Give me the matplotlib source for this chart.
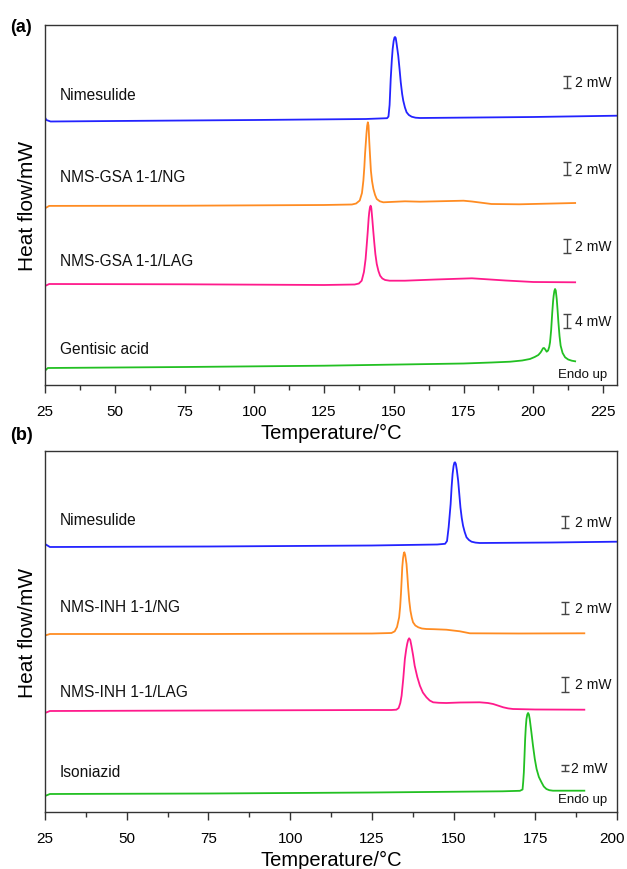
import matplotlib
matplotlib.use("Agg")
import matplotlib.pyplot as plt
from matplotlib.transforms import ScaledTranslation

plt.rcParams["font.family"] = ["Liberation Sans", "DejaVu Sans"]

# ---- panel (a): NMS-GSA ----
nim_a_T = [25.0, 25.5, 27, 50, 100, 140, 147.6, 148.1, 148.5, 148.9, 149.3, 149.6, 149.95,
           150.25, 150.45, 150.7, 151.0, 151.6, 152.1, 152.5, 153.0, 153.4, 154.0, 154.6,
           155.4, 156.4, 157.8, 159.4, 200, 230]
nim_a_hf = [267.5, 265, 263.5, 264, 265, 266, 266.8, 268.5, 280, 306, 325, 336, 344,
            347.5, 348, 347, 341.5, 329.3, 315, 302.7, 291, 284.3, 277.5, 272.7,
            270, 268.3, 267.3, 267, 268, 269.3]

ng_a_T = [25, 26.5, 75, 125, 135, 136.5, 137.8, 138.6, 139.1, 139.45, 139.7, 140.0, 140.2,
          140.45, 140.7, 140.95, 141.2, 141.5, 141.8, 142.2, 142.7, 143.3, 143.9, 145.0,
          146.25, 154, 159.4, 175, 178, 185, 195, 215]
ng_a_hf = [176.7, 179.1, 179.3, 180, 180.5, 181.5, 184.5, 192, 204.3, 218, 231, 243, 251,
           259, 262.7, 259.5, 244.3, 229, 214.3, 204, 196, 190, 186, 183.7,
           182.7, 183.7, 183.3, 184.3, 183.5, 181, 180.7, 182]

lag_a_T = [25, 26.5, 75, 125, 136, 137.5, 138.5, 139.3, 139.9, 140.3, 140.65, 141.0, 141.2,
           141.45, 141.7, 141.95, 142.3, 142.65, 143.0, 143.4, 143.9, 144.5, 145.1, 145.9,
           146.9, 148.5, 154, 165, 178, 190, 200, 215]
lag_a_hf = [99, 101, 100.7, 100, 100.5, 101.5, 104.3, 113, 126, 140, 152.7, 167, 172.7,
            177.5, 179.3, 177, 166, 154, 142.7, 131, 121, 114, 109.3, 106.5,
            105, 104.3, 104.3, 105.5, 106.7, 104.5, 103, 102.7]

gen_a_T = [25, 26, 75, 125, 175, 185, 191.7, 196, 198.8, 200.5, 201.8, 202.6, 203.0, 203.5,
           203.85, 204.3, 204.8, 205.3, 205.7, 206.0, 206.4, 206.8, 207.1, 207.3, 207.55,
           207.8, 208.05, 208.4, 208.7, 209.0, 209.4, 209.8, 210.5, 211.4, 212.5, 213.8, 215]
gen_a_hf = [14.3, 17, 18, 19.3, 21.5, 22.5, 23.3, 24.5, 26, 28, 30, 32.5, 34.3, 36.8,
            37, 35.5, 33.3, 34.5, 38, 42.7, 55, 72.7, 84, 89.3, 94,
            96, 94.5, 86, 75, 62.7, 49, 39.3, 32, 27.7, 25.5, 24.3, 23.7]

# ---- panel (b): NMS-INH ----
nim_b_T = [25, 26.5, 75, 125, 145, 147.4, 148.0, 148.5, 149.1, 149.4, 149.7, 150.0, 150.25,
           150.45, 150.7, 151.0, 151.4, 151.75, 152.1, 152.5, 152.9, 153.4, 153.96, 154.7,
           155.5, 156.7, 158, 180, 200]
nim_b_hf = [268, 265, 265.5, 266.5, 267.5, 268.2, 271, 285, 308, 325, 338, 346, 349.3,
            349.7, 348, 342, 331.3, 318, 304.7, 294, 286.3, 280, 274.7, 272,
            270.3, 269.4, 269, 269.5, 270.3]

ng_b_T = [25, 26.5, 75, 125, 131, 131.6, 132.0, 132.7, 133.35, 133.65, 133.9, 134.1, 134.3,
          134.55, 134.8, 134.95, 135.2, 135.6, 135.85, 136.1, 136.45, 136.8, 137.2, 137.6,
          138.3, 139.2, 140.3, 141.7, 144, 147.8, 151.9, 155, 170, 190]
ng_b_hf = [176.5, 178, 178, 178.5, 179, 180, 180.7, 185, 194.7, 205, 218, 231, 244.7,
           254, 259, 259.7, 257, 248, 237, 224.7, 211, 201.3, 194.5, 189.7,
           186.5, 184.7, 183.5, 183, 182.8, 182.3, 180.7, 178.7, 178.5, 178.7]

lag_b_T = [25, 26.5, 75, 125, 131, 132.5, 133.2, 133.7, 134.1, 134.6, 135.1, 135.5, 135.8,
           136.1, 136.4, 136.75, 137.1, 137.6, 138.1, 138.9, 139.7, 140.6, 141.7, 142.7,
           143.75, 145.5, 147.8, 152, 158, 160.5, 162.1, 163.7, 165.2, 166.7, 168.2, 175, 190]
lag_b_hf = [99, 101, 101.5, 102, 102, 102.3, 104, 109, 116.3, 133, 153, 162.5, 168,
            172, 173.7, 172, 166.3, 157, 146.3, 135, 126.3, 119.5, 114.7, 111.5,
            109.7, 109.2, 109, 109.5, 109.7, 109, 108, 106.3, 104.7, 103.6, 103, 102.5, 102.3]

iso_b_T = [25, 26.5, 75, 125, 165, 170.3, 171.1, 171.3, 171.5, 171.7, 171.9, 172.1, 172.3,
           172.55, 172.8, 173.05, 173.3, 173.8, 174.3, 174.85, 175.4, 176.1, 176.9, 177.6,
           178.4, 179.3, 180.4, 190]
iso_b_hf = [16, 18, 18.5, 19.5, 20.7, 21.2, 22.5, 30, 39.7, 56, 73, 85, 93,
            97.5, 99, 97.5, 93, 80, 66.3, 53, 43, 35, 29.7, 25.5,
            23, 21.8, 21.3, 21.3]

colors = ["#2323ff", "#ff8c22", "#ff1a8c", "#22c022"]

names_a = ["Nimesulide", "NMS-GSA 1-1/NG", "NMS-GSA 1-1/LAG", "Gentisic acid"]
names_b = ["Nimesulide", "NMS-INH 1-1/NG", "NMS-INH 1-1/LAG", "Isoniazid"]
label_y_a = [291, 208, 124, 36]
label_y_b = [292, 205, 120, 40]

# scale bars: (bottom, top, text)
bars_a = [(296.7, 309.3, "2 mW"), (210, 222.7, "2 mW"), (132, 146, "2 mW"), (56.7, 71, "4 mW")]
bars_b = [(284, 296.3, "2 mW"), (198, 209.7, "2 mW"), (119.7, 135.3, "2 mW"), (41.3, 47, "2 mW")]

curves_a = [(nim_a_T, nim_a_hf), (ng_a_T, ng_a_hf), (lag_a_T, lag_a_hf), (gen_a_T, gen_a_hf)]
curves_b = [(nim_b_T, nim_b_hf), (ng_b_T, ng_b_hf), (lag_b_T, lag_b_hf), (iso_b_T, iso_b_hf)]

fig = plt.figure(figsize=(6.27, 8.7), dpi=100)
W, H = 627.0, 870.0


def make_panel(rect, curves, names, label_y, bars, xlim, ylim, bar_x, text_x, endo_y, letter, letter_y):
    ax = fig.add_axes(rect)
    for (t, hf), c in zip(curves, colors):
        ax.plot(t, hf, color=c, lw=1.3, solid_joinstyle="round")
    x0 = xlim[0] + (xlim[1] - xlim[0]) * 15.0 / 572
    for name, y in zip(names, label_y):
        ax.text(x0, y, name, fontsize=11.2, ha="left", va="center", color="#111111")
    for (b0, b1, txt), tx in zip(bars, text_x):
        ax.errorbar([bar_x], [(b0 + b1) / 2], yerr=[(b1 - b0) / 2], fmt="none",
                    ecolor="#444444", elinewidth=1.0, capsize=3, capthick=1.0)
        ax.text(tx, (b0 + b1) / 2, txt, fontsize=10, ha="left", va="center", color="#111111")
    ax.text(xlim[1] - (xlim[1] - xlim[0]) * 10.0 / 572, endo_y, "Endo up", fontsize=9.5,
            ha="right", va="center", color="#111111")
    ax.set_xlim(xlim)
    ax.set_ylim(ylim)
    ax.set_xticks(range(25, int(xlim[1]) + 1, 25))
    ax.set_xticks([v + 12.5 for v in range(25, int(xlim[1]) - 12, 25)], minor=True)
    ax.set_yticks([])
    ax.tick_params(axis="x", which="major", length=6, width=1.0, labelsize=11, pad=8, color="#333333")
    ax.tick_params(axis="x", which="minor", length=3.5, width=1.0, color="#333333")
    for s in ax.spines.values():
        s.set_color("#333333")
        s.set_linewidth(1.0)
    ax.set_xlabel("Temperature/\u00b0C", fontsize=14.5, labelpad=3)
    ax.set_ylabel("Heat flow/mW", fontsize=15, labelpad=6)
    fig.text(10 / W, 1 - letter_y / H, letter, fontsize=13, fontweight="bold", ha="left", va="center")
    return ax


make_panel([45 / W, 1 - 386 / H, 572 / W, 360 / H], curves_a, names_a, label_y_a, bars_a,
           (25, 230.0), (0, 360), 212.0, [215.0, 215.0, 215.0, 215.0], 11, "(a)", 28)
ax_b = make_panel([45 / W, 1 - 813 / H, 572 / W, 361 / H], curves_b, names_b, label_y_b, bars_b,
                  (25, 200.0), (0, 361), 184.0, [187.0, 187.0, 187.0, 185.8], 13, "(b)", 436)

# last tick label of (b) sits on the figure edge; nudge it inward a little
last = ax_b.get_xticklabels()[-1]
last.set_transform(last.get_transform() + ScaledTranslation(-5 / 100, 0, fig.dpi_scale_trans))

fig.savefig("out.png", dpi=100)
